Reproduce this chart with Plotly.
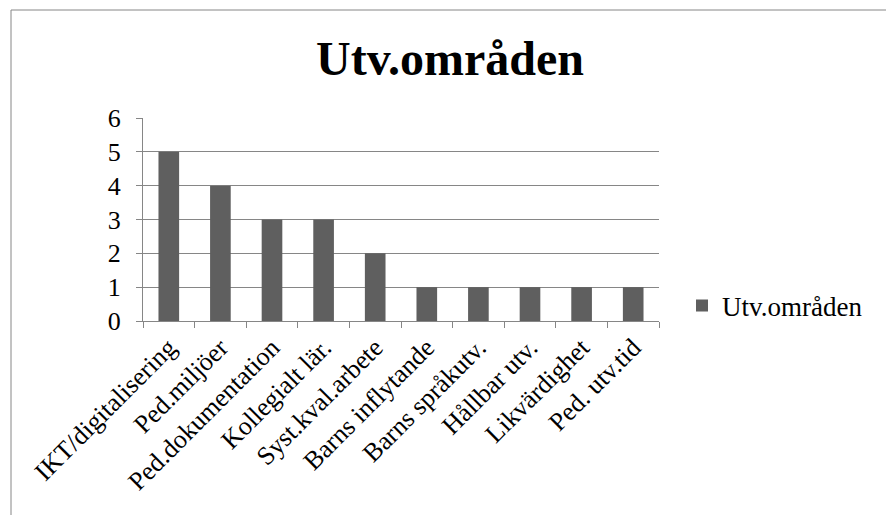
import plotly.graph_objects as go

categories = ["IKT/digitalisering", "Ped.miljöer", "Ped.dokumentation", "Kollegialt lär.",
              "Syst.kval.arbete", "Barns inflytande", "Barns språkutv.", "Hållbar utv.",
              "Likvärdighet", "Ped. utv.tid"]
values = [5, 4, 3, 3, 2, 1, 1, 1, 1, 1]
series_name = "Utv.områden"
title_text = "Utv.områden"

FONT = "Liberation Serif, Times New Roman, serif"
W, H = 886, 515
L, R, T, B = 143, 227, 118, 194

fig = go.Figure(go.Bar(x=categories, y=values, name=series_name,
                       marker=dict(color="#5f5f5f", line=dict(width=0)),
                       showlegend=True))

pw = W - L - R
ph = H - T - B
def px(x): return (x - L) / pw
def py(y): return (H - B - y) / ph

fig.update_layout(
    width=W, height=H,
    margin=dict(l=L, r=R, t=T, b=B, autoexpand=False),
    paper_bgcolor="white", plot_bgcolor="white",
    font=dict(family=FONT, color="black"),
    title=dict(text="<b>" + title_text + "</b>", x=px(450), xref="paper", xanchor="center",
               y=1 - 58 / H, yanchor="middle", font=dict(size=48, family=FONT)),
    bargap=0.6,
    showlegend=True,
    legend=dict(x=px(682), y=py(306), xanchor="left", yanchor="middle",
                font=dict(size=27, family=FONT), itemwidth=30, bgcolor="rgba(0,0,0,0)",
                tracegroupgap=0),
    xaxis=dict(type="category", tickangle=-45, tickfont=dict(size=26, family=FONT),
               showline=True, linecolor="#868686", linewidth=1,
               ticks="outside", tickson="boundaries", ticklen=6, tickcolor="#868686",
               showgrid=False),
    yaxis=dict(range=[0, 6], dtick=1, tickfont=dict(size=26, family=FONT),
               showline=True, linecolor="#868686", linewidth=1,
               ticks="outside", ticklen=6, tickcolor="#868686", ticklabelstandoff=10,
               showgrid=True, gridcolor="#868686", gridwidth=1, zeroline=False),
    shapes=[
        dict(type="line", xref="paper", yref="paper", x0=px(11), x1=px(W + 5), y0=py(10), y1=py(10),
             line=dict(color="#868686", width=1)),
        dict(type="line", xref="paper", yref="paper", x0=px(11), x1=px(11), y0=py(10), y1=py(H + 5),
             line=dict(color="#868686", width=1)),
    ],
)

fig.write_html("out.html", config={"displayModeBar": False},
               post_script="document.body.style.margin='0px';")
